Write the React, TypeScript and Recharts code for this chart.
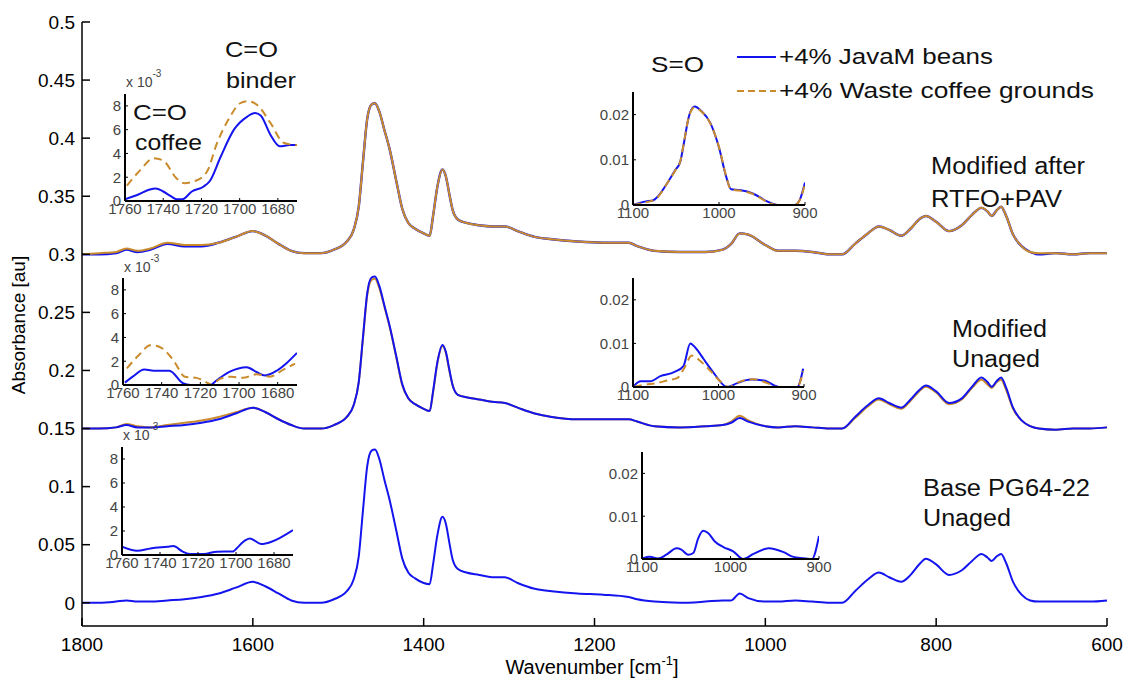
import { LineChart, Line, XAxis, YAxis } from 'recharts';

const FONT = "'Liberation Sans', Arial, Helvetica, sans-serif";
const BLUE = '#1414ee';
const ORANGE = '#c98b2b';

// full FTIR spectra, wavenumber in cm^-1 (high to low) and absorbance in au
const wavenumbers = [
  1800, 1780, 1760, 1748, 1735, 1720, 1700, 1680, 1660, 1640, 1620, 1600, 1585, 1570, 1555, 1540, 1520,
  1505, 1490, 1482, 1476, 1471, 1466, 1461, 1457, 1452, 1446, 1440, 1432, 1425, 1418, 1410, 1400, 1393,
  1389, 1384, 1378, 1374, 1370, 1366, 1360, 1350, 1335, 1320, 1305, 1290, 1270, 1250, 1220, 1190, 1160,
  1150, 1130, 1100, 1070, 1050, 1040, 1030, 1020, 1000, 985, 965, 945, 925, 910, 895, 880, 867, 855, 841,
  830, 820, 812, 800, 785, 770, 758, 747, 740, 735, 729, 724, 718, 710, 700, 690, 680, 660, 640, 620, 600,
];

const baseUnaged = [
  0.0, 0.0, 0.001, 0.002, 0.001, 0.001, 0.002, 0.003, 0.005, 0.008, 0.013, 0.018, 0.014, 0.008, 0.002, 0.0, 0.0,
  0.003, 0.01, 0.02, 0.04, 0.08, 0.118, 0.131, 0.132, 0.124, 0.106, 0.089, 0.062, 0.038, 0.026, 0.021, 0.017, 0.016,
  0.033, 0.058, 0.074, 0.068, 0.052, 0.037, 0.029, 0.026, 0.024, 0.022, 0.022, 0.017, 0.012, 0.01, 0.008, 0.007, 0.005,
  0.003, 0.001, 0.0, 0.001, 0.002, 0.002, 0.008, 0.004, 0.001, 0.001, 0.002, 0.001, 0.0, 0.0, 0.01, 0.02, 0.026, 0.022, 0.018,
  0.024, 0.033, 0.038, 0.033, 0.024, 0.028, 0.036, 0.042, 0.039, 0.036, 0.04, 0.042, 0.034, 0.018, 0.007, 0.002, 0.001, 0.001, 0.001, 0.001, 0.002,
];

const javaUnaged = [
  0.15, 0.15, 0.151, 0.153, 0.151, 0.151, 0.152, 0.153, 0.155, 0.158, 0.163, 0.168, 0.164, 0.158, 0.153, 0.15, 0.15,
  0.153, 0.16, 0.17, 0.19, 0.229, 0.267, 0.28, 0.281, 0.273, 0.256, 0.239, 0.212, 0.188, 0.176, 0.171, 0.167, 0.165,
  0.182, 0.207, 0.222, 0.216, 0.201, 0.187, 0.179, 0.177, 0.175, 0.173, 0.172, 0.168, 0.163, 0.16, 0.158, 0.158, 0.158,
  0.156, 0.152, 0.151, 0.152, 0.153, 0.155, 0.159, 0.156, 0.152, 0.151, 0.152, 0.151, 0.15, 0.15, 0.16, 0.17, 0.176, 0.172, 0.168,
  0.175, 0.183, 0.187, 0.182, 0.172, 0.176, 0.186, 0.194, 0.19, 0.186, 0.191, 0.194, 0.185, 0.168, 0.157, 0.152, 0.15, 0.149, 0.15, 0.15, 0.151,
];

const wasteUnaged = [
  0.15, 0.15, 0.151, 0.154, 0.152, 0.151, 0.153, 0.155, 0.157, 0.16, 0.164, 0.168, 0.164, 0.158, 0.153, 0.15, 0.15,
  0.153, 0.16, 0.17, 0.19, 0.228, 0.265, 0.278, 0.279, 0.271, 0.255, 0.238, 0.211, 0.187, 0.176, 0.171, 0.167, 0.165,
  0.181, 0.206, 0.221, 0.215, 0.2, 0.187, 0.179, 0.177, 0.175, 0.173, 0.172, 0.168, 0.163, 0.16, 0.158, 0.158, 0.158,
  0.156, 0.152, 0.151, 0.152, 0.153, 0.156, 0.161, 0.157, 0.152, 0.151, 0.152, 0.151, 0.15, 0.15, 0.159, 0.169, 0.175, 0.171, 0.167,
  0.174, 0.182, 0.186, 0.181, 0.171, 0.175, 0.185, 0.192, 0.188, 0.185, 0.19, 0.192, 0.183, 0.167, 0.157, 0.152, 0.15, 0.149, 0.15, 0.15, 0.151,
];

const javaAged = [
  0.3, 0.3, 0.301, 0.304, 0.302, 0.304, 0.309, 0.307, 0.307, 0.31, 0.315, 0.32, 0.316, 0.309, 0.303, 0.301, 0.301,
  0.304, 0.311, 0.321, 0.341, 0.38, 0.417, 0.429, 0.43, 0.423, 0.407, 0.391, 0.363, 0.339, 0.327, 0.322, 0.318, 0.316,
  0.333, 0.358, 0.373, 0.367, 0.352, 0.338, 0.33, 0.327, 0.325, 0.324, 0.324, 0.32, 0.315, 0.313, 0.311, 0.31, 0.31,
  0.307, 0.303, 0.302, 0.302, 0.304, 0.309, 0.318, 0.317, 0.308, 0.303, 0.303, 0.302, 0.3, 0.3, 0.309, 0.318, 0.324, 0.321, 0.316,
  0.322, 0.33, 0.333, 0.328, 0.32, 0.325, 0.334, 0.34, 0.337, 0.333, 0.338, 0.341, 0.333, 0.317, 0.307, 0.302, 0.3, 0.301, 0.3, 0.301, 0.301,
];

const wasteAged = [
  0.3, 0.301, 0.302, 0.305, 0.303, 0.305, 0.31, 0.308, 0.308, 0.31, 0.315, 0.32, 0.316, 0.309, 0.303, 0.301, 0.301,
  0.304, 0.311, 0.321, 0.341, 0.38, 0.417, 0.429, 0.43, 0.423, 0.407, 0.391, 0.363, 0.339, 0.327, 0.322, 0.318, 0.316,
  0.333, 0.358, 0.373, 0.367, 0.352, 0.338, 0.33, 0.327, 0.325, 0.324, 0.324, 0.32, 0.315, 0.313, 0.311, 0.31, 0.31,
  0.307, 0.303, 0.302, 0.302, 0.304, 0.309, 0.318, 0.317, 0.308, 0.303, 0.303, 0.302, 0.3, 0.3, 0.309, 0.318, 0.324, 0.321, 0.316,
  0.322, 0.33, 0.333, 0.328, 0.32, 0.325, 0.334, 0.34, 0.337, 0.333, 0.338, 0.341, 0.333, 0.317, 0.307, 0.302, 0.301, 0.301, 0.3, 0.301, 0.301,
];

const wavenumberTicks = [1800, 1600, 1400, 1200, 1000, 800, 600];
const absorbanceTicks = [0, 0.05, 0.1, 0.15, 0.2, 0.25, 0.3, 0.35, 0.4, 0.45, 0.5];

// carbonyl zoom-ins, absorbance x 10^-3
const carbonylTicks = [1760, 1740, 1720, 1700, 1680];
const carbonylYTicks = [0, 2, 4, 6, 8];
const coAgedJava = [
  [1760, 0.15], [1753, 0.55], [1747, 0.97], [1744, 1.05], [1740, 0.8], [1736, 0.4], [1733, 0.15], [1730, 0.15],
  [1725, 0.8], [1719, 1.2], [1715.5, 1.7], [1710, 3.7], [1703, 6.0], [1696, 7.1], [1692, 7.4], [1689, 7.2],
  [1684, 5.6], [1679, 4.6], [1674, 4.7], [1670, 4.7],
];
const coAgedWaste = [
  [1759, 1.3], [1752, 2.6], [1745, 3.6], [1740, 3.4], [1733, 1.9], [1729, 1.5], [1723, 1.7], [1717, 2.5],
  [1712, 4.8], [1705, 7.1], [1700, 8.2], [1696, 8.4], [1691, 8.1], [1684, 6.6], [1677, 4.9], [1670, 4.7],
];
const coUnagedJava = [
  [1759, 0.2], [1755, 0.7], [1749, 1.3], [1743, 1.2], [1736, 1.2], [1729, 0.15], [1725, 0], [1715, 0],
  [1711.5, 0.4], [1705, 1.1], [1696, 1.5], [1691, 1.1], [1686.5, 0.8], [1680.5, 1.2], [1675, 1.9], [1670, 2.7],
];
const coUnagedWaste = [
  [1758, 1.4], [1751, 2.65], [1746, 3.35], [1741, 3.2], [1734, 2.1], [1728, 0.7], [1722, 0.6], [1716, 0.15],
  [1714, 0], [1710, 0.5], [1704, 0.7], [1698, 0.6], [1691, 0.9], [1684, 0.7], [1677, 1.3], [1671, 1.8],
];
const coBase = [
  [1760, 0.7], [1752, 0.36], [1745, 0.55], [1736, 0.69], [1733, 0.74], [1728, 0.28], [1724, 0.08], [1717, 0.08],
  [1710, 0.28], [1701.5, 0.3], [1699.7, 0.55], [1695, 1.24], [1692.7, 1.38], [1686.6, 0.91], [1681.3, 1.1], [1670, 2.07],
];

// sulfoxide zoom-ins, absorbance
const sulfoxideTicks = [1100, 1000, 900];
const sulfoxideYTicks = [0, 0.01, 0.02];
const soAgedJava = [
  [1100, 0], [1085, 0.0008], [1077, 0.001], [1071, 0.0019], [1061, 0.0046], [1051, 0.0077], [1045, 0.0096],
  [1041, 0.0135], [1035, 0.0196], [1028.5, 0.0218], [1020.5, 0.0208], [1010, 0.0181], [1000, 0.0127],
  [992, 0.0065], [986, 0.0035], [976, 0.0033], [960, 0.0025], [944, 0.0008], [932, 0], [912, 0], [906, 0.0012], [900, 0.005],
];
const soAgedWaste = [
  [1100, 0], [1085, 0.0006], [1077, 0.001], [1071, 0.0018], [1061, 0.0046], [1051, 0.0076], [1045, 0.0097],
  [1041, 0.0136], [1035, 0.0195], [1028.5, 0.0216], [1020.5, 0.0207], [1010, 0.018], [1000, 0.0128],
  [992, 0.0066], [986, 0.0034], [976, 0.0032], [960, 0.0024], [944, 0.0007], [932, 0], [912, 0], [906, 0.0011], [900, 0.0048],
];
const soUnagedJava = [
  [1099, 0.0002], [1091, 0.0013], [1080, 0.0013], [1068, 0.0025], [1052, 0.0034], [1041, 0.0048], [1033, 0.01],
  [1027, 0.009], [1017, 0.0063], [1005.5, 0.0032], [990, 0], [978, 0.0009], [962.5, 0.0017], [947, 0.0015],
  [929, 0], [908, 0], [901, 0.0042],
];
const soUnagedWaste = [
  [1099, 0], [1087.5, 0.0005], [1072, 0.0009], [1060, 0.0015], [1048, 0.0021], [1041, 0.004], [1031, 0.0072],
  [1021, 0.0059], [1009, 0.0036], [998, 0.0013], [988, 0], [974, 0.0013], [958.5, 0.0018], [943, 0.0009],
  [931, 0], [908, 0], [901, 0.0036],
];
const soBase = [
  [1099, 0.0002], [1091, 0.0005], [1082, 0.0001], [1072.5, 0.001], [1061, 0.0025], [1055.5, 0.0022], [1048, 0.001],
  [1042, 0.0014], [1036.5, 0.0048], [1031, 0.0066], [1025, 0.006], [1017.7, 0.0041], [1008, 0.0028], [997, 0.0018],
  [985.7, 0], [974, 0.0012], [957, 0.0025], [940, 0.0016], [929, 0.0005], [918, 0.0002], [908, 0], [900, 0.0054],
];

const spectra = wavenumbers.map((wn, i) => ({
  wn,
  base: baseUnaged[i],
  javaUnaged: javaUnaged[i],
  wasteUnaged: wasteUnaged[i],
  javaAged: javaAged[i],
  wasteAged: wasteAged[i],
}));

const toPoints = (pairs: number[][]) => pairs.map(([w, v]) => ({ w, v }));

type Series = { points: number[][]; color: string; dashed?: boolean };

interface InsetProps {
  left: number;
  top: number;
  width: number;
  height: number;
  xDomain: [number, number];
  yDomain: [number, number];
  xTicks: number[];
  yTicks: number[];
  series: Series[];
}

function Inset({ left, top, width, height, xDomain, yDomain, xTicks, yTicks, series }: InsetProps) {
  const padL = 50;
  const padB = 26;
  const padT = 4;
  const padR = 24;
  const tickStyle = { fill: '#444', fontSize: 15, fontFamily: FONT };
  return (
    <div style={{ position: 'absolute', left: left - padL, top: top - padT }}>
      <LineChart
        width={width + padL + padR}
        height={height + padT + padB}
        margin={{ top: padT, right: padR, bottom: 0, left: 0 }}
      >
        <XAxis
          type="number"
          dataKey="w"
          domain={xDomain}
          reversed
          allowDataOverflow
          ticks={xTicks}
          interval={0}
          height={padB}
          tickSize={-3}
          tickMargin={5}
          tick={tickStyle}
          axisLine={{ stroke: '#000', strokeWidth: 2 }}
          tickLine={{ stroke: '#000' }}
        />
        <YAxis
          type="number"
          domain={yDomain}
          allowDataOverflow
          ticks={yTicks}
          interval={0}
          width={padL}
          tickSize={-3}
          tickMargin={7}
          tick={tickStyle}
          axisLine={{ stroke: '#000', strokeWidth: 2 }}
          tickLine={{ stroke: '#000' }}
        />
        {series.map((s, i) => (
          <Line
            key={i}
            data={toPoints(s.points)}
            dataKey="v"
            type="monotone"
            stroke={s.color}
            strokeWidth={2}
            strokeDasharray={s.dashed ? '8 5' : undefined}
            dot={false}
            isAnimationActive={false}
          />
        ))}
      </LineChart>
    </div>
  );
}

function Note({ x, y, w, size = 23, children }: { x: number; y: number; w: number; size?: number; children: string }) {
  return (
    <text x={x} y={y} textLength={w} lengthAdjust="spacingAndGlyphs" fontSize={size} fontFamily={FONT} fill="#111">
      {children}
    </text>
  );
}

function Times10({ x, y }: { x: number; y: number }) {
  return (
    <text x={x} y={y} fontSize={14} fontFamily={FONT} fill="#444">
      x 10
      <tspan fontSize={10} dy={-10}>-3</tspan>
    </text>
  );
}

export default function App() {
  return (
    <div style={{ position: 'absolute', left: 0, top: 0, width: 1123, height: 684, background: '#fff', overflow: 'hidden' }}>
      <LineChart width={1123} height={684} data={spectra} margin={{ top: 22, right: 16, bottom: 0, left: 0 }}>
        <XAxis
          xAxisId="bottom"
          type="number"
          dataKey="wn"
          domain={[600, 1800]}
          reversed
          ticks={wavenumberTicks}
          interval={0}
          height={58}
          tickSize={-8}
          tickMargin={20}
          tick={{ fill: '#000', fontSize: 19, fontFamily: FONT }}
          axisLine={{ stroke: '#000', strokeWidth: 1.5 }}
          tickLine={{ stroke: '#000', strokeWidth: 1.5 }}
        />
        <XAxis
          xAxisId="top"
          orientation="top"
          type="number"
          dataKey="wn"
          domain={[600, 1800]}
          reversed
          ticks={wavenumberTicks}
          interval={0}
          height={0}
          tickSize={-8}
          tick={false}
          axisLine={{ stroke: '#000', strokeWidth: 1.5 }}
          tickLine={{ stroke: '#000', strokeWidth: 1.5 }}
        />
        <YAxis
          yAxisId="left"
          type="number"
          domain={[-0.02, 0.5]}
          allowDataOverflow
          ticks={absorbanceTicks}
          interval={0}
          width={82}
          tickSize={-8}
          tickMargin={15}
          tickFormatter={(v) => String(v)}
          tick={{ fill: '#000', fontSize: 19, fontFamily: FONT }}
          axisLine={{ stroke: '#000', strokeWidth: 1.5 }}
          tickLine={{ stroke: '#000', strokeWidth: 1.5 }}
        />
        <YAxis
          yAxisId="right"
          orientation="right"
          type="number"
          domain={[-0.02, 0.5]}
          allowDataOverflow
          ticks={absorbanceTicks}
          interval={0}
          width={0}
          tickSize={-8}
          tick={false}
          axisLine={{ stroke: '#000', strokeWidth: 1.5 }}
          tickLine={{ stroke: '#000', strokeWidth: 1.5 }}
        />
        <Line xAxisId="bottom" yAxisId="left" dataKey="base" type="monotone" stroke={BLUE} strokeWidth={2} dot={false} isAnimationActive={false} />
        <Line xAxisId="bottom" yAxisId="left" dataKey="wasteUnaged" type="monotone" stroke={ORANGE} strokeWidth={2} dot={false} isAnimationActive={false} />
        <Line xAxisId="bottom" yAxisId="left" dataKey="javaUnaged" type="monotone" stroke={BLUE} strokeWidth={2} dot={false} isAnimationActive={false} />
        <Line xAxisId="bottom" yAxisId="left" dataKey="javaAged" type="monotone" stroke={BLUE} strokeWidth={2.4} dot={false} isAnimationActive={false} />
        <Line xAxisId="bottom" yAxisId="left" dataKey="wasteAged" type="monotone" stroke={ORANGE} strokeWidth={2} dot={false} isAnimationActive={false} />
      </LineChart>

      <Inset left={125} top={94} width={172} height={107} xDomain={[1670, 1760]} yDomain={[0, 9]} xTicks={carbonylTicks} yTicks={carbonylYTicks}
        series={[{ points: coAgedJava, color: BLUE }, { points: coAgedWaste, color: ORANGE, dashed: true }]} />
      <Inset left={123} top={278} width={174} height={107} xDomain={[1670, 1760]} yDomain={[0, 9]} xTicks={carbonylTicks} yTicks={carbonylYTicks}
        series={[{ points: coUnagedJava, color: BLUE }, { points: coUnagedWaste, color: ORANGE, dashed: true }]} />
      <Inset left={122} top={447} width={171} height={108} xDomain={[1670, 1760]} yDomain={[0, 9]} xTicks={carbonylTicks} yTicks={carbonylYTicks}
        series={[{ points: coBase, color: BLUE }]} />
      <Inset left={633} top={92} width={172} height={113} xDomain={[900, 1100]} yDomain={[0, 0.025]} xTicks={sulfoxideTicks} yTicks={sulfoxideYTicks}
        series={[{ points: soAgedJava, color: BLUE }, { points: soAgedWaste, color: ORANGE, dashed: true }]} />
      <Inset left={633} top={278} width={171} height={109} xDomain={[900, 1100]} yDomain={[0, 0.025]} xTicks={sulfoxideTicks} yTicks={sulfoxideYTicks}
        series={[{ points: soUnagedJava, color: BLUE }, { points: soUnagedWaste, color: ORANGE, dashed: true }]} />
      <Inset left={642} top={452} width={177} height={107} xDomain={[900, 1100]} yDomain={[0, 0.025]} xTicks={sulfoxideTicks} yTicks={sulfoxideYTicks}
        series={[{ points: soBase, color: BLUE }]} />

      <svg width={1123} height={684} style={{ position: 'absolute', left: 0, top: 0, pointerEvents: 'none' }}>
        <text transform="translate(25 325) rotate(-90)" textAnchor="middle" fontSize={19} fontFamily={FONT} fill="#000">
          Absorbance [au]
        </text>
        <text x={592} y={674} textAnchor="middle" fontSize={20} fontFamily={FONT} fill="#000">
          Wavenumber [cm
          <tspan fontSize={13} dy={-9}>-1</tspan>
          <tspan dy={9}>]</tspan>
        </text>

        <line x1={737} y1={57} x2={776} y2={57} stroke={BLUE} strokeWidth={2} />
        <Note x={779} y={64} w={214} size={22}>+4% JavaM beans</Note>
        <line x1={737} y1={91} x2={776} y2={91} stroke={ORANGE} strokeWidth={2} strokeDasharray="7 4" />
        <Note x={779} y={98} w={315} size={22}>+4% Waste coffee grounds</Note>

        <Note x={225} y={57} w={53} size={22}>C=O</Note>
        <Note x={226} y={88} w={70} size={22}>binder</Note>
        <Note x={133} y={120} w={54} size={22}>C=O</Note>
        <Note x={135} y={150} w={67} size={22}>coffee</Note>
        <Note x={651} y={72} w={53} size={22}>S=O</Note>

        <Note x={931} y={174} w={154}>Modified after</Note>
        <Note x={931} y={207} w={131}>RTFO+PAV</Note>
        <Note x={952} y={337} w={95}>Modified</Note>
        <Note x={952} y={367} w={88}>Unaged</Note>
        <Note x={923} y={496} w={167}>Base PG64-22</Note>
        <Note x={923} y={526} w={88}>Unaged</Note>

        <Times10 x={126} y={87} />
        <Times10 x={124} y={272} />
        <Times10 x={123} y={440} />
      </svg>
    </div>
  );
}
